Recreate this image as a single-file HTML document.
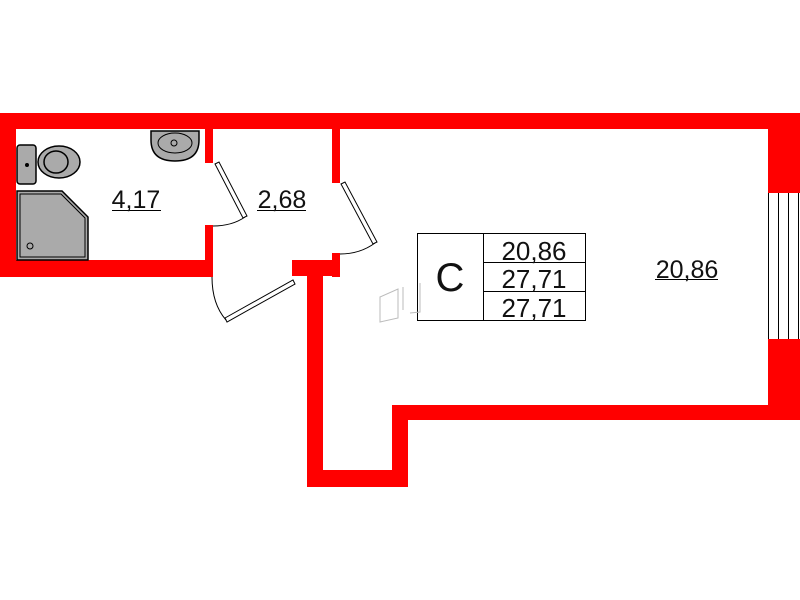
<!DOCTYPE html>
<html><head><meta charset="utf-8"><style>
html,body{margin:0;padding:0;background:#fff;width:800px;height:600px;overflow:hidden}
svg{display:block}
text{font-family:"Liberation Sans",sans-serif;fill:#111}
</style></head><body>
<svg width="800" height="600" viewBox="0 0 800 600">
<g fill="#ff0000">
<rect x="0" y="113" width="800" height="16"/>
<rect x="0" y="113" width="16" height="164"/>
<rect x="0" y="260" width="213" height="17"/>
<rect x="205" y="129" width="8" height="34"/>
<rect x="205" y="225" width="8" height="52"/>
<rect x="332" y="129" width="8" height="54"/>
<rect x="332" y="253" width="8" height="24"/>
<rect x="292" y="260" width="48" height="16"/>
<rect x="307" y="260" width="16" height="227"/>
<rect x="307" y="470" width="101" height="17"/>
<rect x="392" y="405" width="16" height="82"/>
<rect x="392" y="405" width="408" height="15"/>
<rect x="768" y="113" width="32" height="80"/>
<rect x="768" y="339" width="32" height="81"/>
</g>
<g stroke="#000" stroke-width="1" fill="none">
<line x1="768.5" y1="193" x2="768.5" y2="339"/>
<line x1="778.5" y1="193" x2="778.5" y2="339"/>
<line x1="788.5" y1="193" x2="788.5" y2="339"/>
<line x1="798.5" y1="193" x2="798.5" y2="339"/>
<polygon points="215,164 219,162 247,216 243,218" fill="#fff"/>
<path d="M213,226 Q232,226 245,217"/>
<polygon points="341,184 345,182 377,242 373,244" fill="#fff"/>
<path d="M340,254 Q360,254 375,243"/>
<polygon points="225,318 293,280 295,284 227,322" fill="#fff"/>
<path d="M212,277 Q212,304 226,320"/>
<rect x="17" y="145" width="19" height="39" rx="3" fill="#aaa" stroke-width="1.5"/>
<circle cx="27" cy="165" r="1.5" fill="#000"/>
<ellipse cx="59" cy="162" rx="21" ry="16" fill="#aaa" stroke-width="1.5"/>
<ellipse cx="56" cy="162" rx="12" ry="11" fill="#aaa" stroke-width="1.5"/>
<polygon points="17,191 62,191 88,217 88,260 17,260" fill="#aaa" stroke-width="1.5"/>
<polygon points="20,194 61,194 85,218 85,257 20,257" fill="none"/>
<circle cx="30" cy="246" r="3"/>
<path d="M151,131 L199,131 L199,140 Q199,161 175,161 Q151,161 151,140 Z" fill="#aaa" stroke-width="1.5"/>
<ellipse cx="175" cy="143" rx="17" ry="10" fill="#aaa"/>
<circle cx="174" cy="143" r="3"/>
<rect x="417.5" y="233.5" width="168" height="87" fill="#fff"/>
<line x1="483.5" y1="233" x2="483.5" y2="321"/>
<line x1="483" y1="262.5" x2="586" y2="262.5"/>
<line x1="483" y1="291.5" x2="586" y2="291.5"/>
<line x1="112" y1="210.5" x2="161" y2="210.5"/>
<line x1="257" y1="210.5" x2="306" y2="210.5"/>
<line x1="655" y1="279.5" x2="718" y2="279.5"/>
</g>
<g stroke="#bbb" stroke-width="1" fill="none">
<path d="M380,297 L398,289 L398,318 L380,322 Z"/>
<path d="M403,287 L403,310 M420,283 L420,312 L410,313"/>
</g>
<text x="136" y="208" font-size="25" text-anchor="middle">4,17</text>
<text x="282" y="208" font-size="25" text-anchor="middle">2,68</text>
<text x="687" y="278" font-size="25" text-anchor="middle">20,86</text>
<text x="450" y="291" font-size="40" text-anchor="middle">C</text>
<text x="534" y="260" font-size="26" text-anchor="middle">20,86</text>
<text x="534" y="288" font-size="26" text-anchor="middle">27,71</text>
<text x="534" y="317" font-size="26" text-anchor="middle">27,71</text>
</svg>
</body></html>
